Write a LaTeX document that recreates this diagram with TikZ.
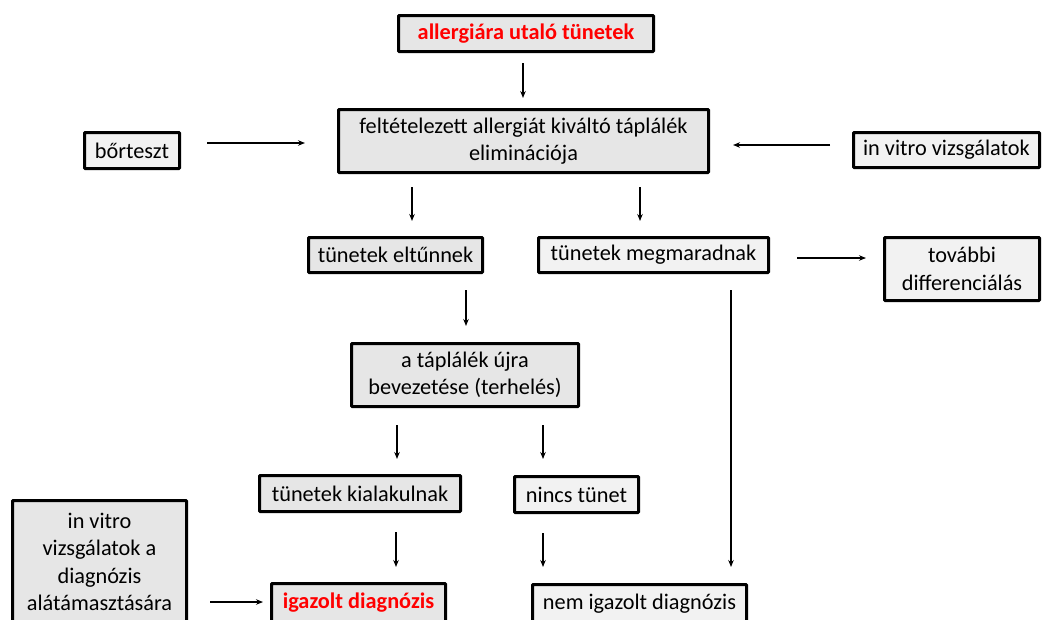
\documentclass[tikz,border=0pt]{standalone}
\usepackage{fontspec}
\setmainfont{Carlito}
\usetikzlibrary{arrows.meta}
\definecolor{boxdark}{HTML}{E6E6E6}
\definecolor{boxlight}{HTML}{F2F2F2}
\definecolor{redtxt}{HTML}{FF0000}
\tikzset{
  box/.style={draw=black, line width=3pt, rounded corners=0.8pt, inner sep=0pt, align=center,
    font=\fontsize{22.3}{27.5}\selectfont},
  dark/.style={box, fill=boxdark},
  light/.style={box, fill=boxlight},
  arr/.style={line width=1.4pt, -{Stealth[length=7pt,width=5.5pt]}},
}
\begin{document}
\begin{tikzpicture}[x=1pt,y=-1pt]
\useasboundingbox (0,0) rectangle (1044,619);
\begin{scope}
\clip (0,0) rectangle (1044,619);
% boxes
\node[dark, minimum width=255pt, minimum height=36pt, text=redtxt, font=\fontsize{22.3}{27.5}\selectfont\bfseries] (top) at (526,33.5) {allergiára utaló tünetek};
\node[dark, minimum width=370pt, minimum height=63pt] (elim) at (523.5,141) {feltételezett allergiát kiváltó táplálék\\eliminációja};
\node[light, minimum width=95pt, minimum height=36pt] (bor) at (132,150.5) {bőrteszt};
\node[light, minimum width=186pt, minimum height=35pt] (ivv) at (946.5,150) {in vitro vizsgálatok};
\node[dark, minimum width=174pt, minimum height=35pt] (elt) at (395.5,255) {tünetek eltűnnek};
\node[light, minimum width=230pt, minimum height=35pt] (meg) at (653.5,255) {tünetek megmaradnak};
\node[light, minimum width=155pt, minimum height=63pt] (tov) at (962,269) {további\\differenciálás};
\node[dark, minimum width=227pt, minimum height=63pt] (terh) at (465,375) {a táplálék újra\\bevezetése (terhelés)};
\node[dark, minimum width=201pt, minimum height=36pt] (kial) at (360,493.5) {tünetek kialakulnak};
\node[light, minimum width=124pt, minimum height=36pt] (nincs) at (576.5,494.5) {nincs tünet};
\node[dark, minimum width=174pt, minimum height=39pt, text=redtxt, font=\fontsize{22.3}{27.5}\selectfont\bfseries] (igaz) at (358.5,603) {igazolt diagnózis};
\node[light, minimum width=214pt, minimum height=38pt] (nemig) at (639.5,603.5) {nem igazolt diagnózis};
\node[dark, minimum width=174pt, minimum height=123pt] (ivd) at (99.5,562) {in vitro\\vizsgálatok a\\diagnózis\\alátámasztására};
\end{scope}
% arrow endpoints
\coordinate (a1s) at (523,63);   \coordinate (a1e) at (523,98);
\coordinate (b1s) at (207,143);  \coordinate (b1e) at (305,143);
\coordinate (c1s) at (830,145);  \coordinate (c1e) at (733,145);
\coordinate (a2s) at (412,187);  \coordinate (a2e) at (412,221);
\coordinate (a3s) at (640,187);  \coordinate (a3e) at (640,221);
\coordinate (a4s) at (797,258);  \coordinate (a4e) at (866,258);
\coordinate (a5s) at (466,290);  \coordinate (a5e) at (466,326);
\coordinate (a6s) at (731,290);  \coordinate (a6e) at (731,567);
\coordinate (a7s) at (397,425);  \coordinate (a7e) at (397,459);
\coordinate (a8s) at (543,425);  \coordinate (a8e) at (543,459);
\coordinate (a9s) at (396,532);  \coordinate (a9e) at (396,567);
\coordinate (a10s) at (543,533); \coordinate (a10e) at (543,567);
\coordinate (a11s) at (210,602); \coordinate (a11e) at (263,602);
\draw[arr] (a1s) -- (a1e);
\draw[arr] (b1s) -- (b1e);
\draw[arr] (c1s) -- (c1e);
\draw[arr] (a2s) -- (a2e);
\draw[arr] (a3s) -- (a3e);
\draw[arr] (a4s) -- (a4e);
\draw[arr] (a5s) -- (a5e);
\draw[arr] (a6s) -- (a6e);
\draw[arr] (a7s) -- (a7e);
\draw[arr] (a8s) -- (a8e);
\draw[arr] (a9s) -- (a9e);
\draw[arr] (a10s) -- (a10e);
\draw[arr] (a11s) -- (a11e);
\end{tikzpicture}
\end{document}
